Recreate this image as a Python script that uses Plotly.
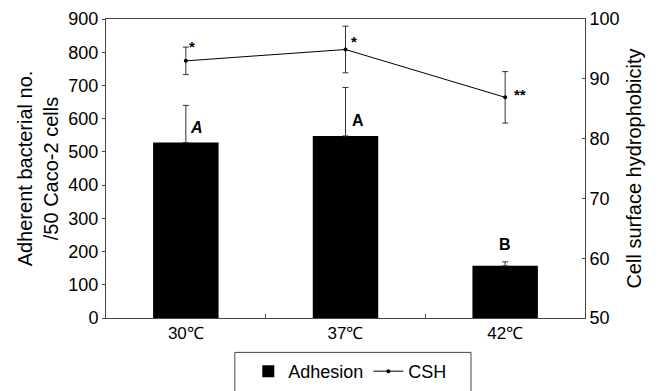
import plotly.graph_objects as go

categories = ["30℃", "37℃", "42℃"]
adhesion = [528, 548, 157]
adhesion_err = [112, 146, 12]
csh = [93.0, 94.9, 86.9]
csh_err = [2.3, 3.9, 4.3]
bar_labels = ["<i>A</i>", "A", "B"]
bar_label_y = [573, 595, 221]
csh_labels = ["*", "*", "**"]
csh_label_y = [95.4, 96.2, 87.4]

FONT = "Liberation Sans, Arial, sans-serif"

fig = go.Figure()
fig.add_trace(go.Bar(
    x=categories, y=adhesion, name="Adhesion",
    marker=dict(color="black", line=dict(width=0)),
    error_y=dict(type="data", array=adhesion_err, arrayminus=[0, 0, 0], symmetric=False,
                 color="#333333", thickness=1, width=3),
    yaxis="y",
))
fig.add_trace(go.Scatter(
    x=categories, y=csh, name="CSH", mode="lines+markers",
    line=dict(color="black", width=1),
    marker=dict(color="black", size=4),
    error_y=dict(type="data", array=csh_err, color="#333333", thickness=1, width=3),
    yaxis="y2",
))

bar_xshift = [11, 12, 0]
for c, t, yv, xs in zip(categories, bar_labels, bar_label_y, bar_xshift):
    fig.add_annotation(x=c, y=yv, xref="x", yref="y", text="<b>" + t + "</b>",
                       showarrow=False, xshift=xs, font=dict(family=FONT, size=16, color="black"))
csh_xshift = [6, 8, 15]
for c, t, yv, xs in zip(categories, csh_labels, csh_label_y, csh_xshift):
    fig.add_annotation(x=c, y=yv, xref="x", yref="y2", text="<b>" + t + "</b>",
                       showarrow=False, xshift=xs, font=dict(family=FONT, size=15, color="black"))

# legend frame
fig.add_shape(type="rect", xref="paper", yref="paper", x0=0.269, x1=0.762, y0=-0.115, y1=-0.26,
              line=dict(color="#444444", width=1), fillcolor="rgba(0,0,0,0)", layer="above")

fig.update_layout(
    width=662, height=391,
    margin=dict(l=98, r=85, t=11, b=81, autoexpand=False),
    paper_bgcolor="white", plot_bgcolor="white",
    font=dict(family=FONT, size=18, color="black"),
    bargap=0.59,
    showlegend=True,
    legend=dict(orientation="h", x=0.51, xanchor="center", y=-0.117, yanchor="top",
                borderwidth=0, bgcolor="rgba(0,0,0,0)", font=dict(size=18), itemwidth=30,
                tracegroupgap=0),
    xaxis=dict(showline=True, linecolor="#444444", linewidth=1, mirror=True, automargin=False,
               ticks="inside", tickson="boundaries", ticklen=4, tickcolor="#444444",
               showgrid=False, tickfont=dict(size=17)),
    yaxis=dict(range=[0, 900], dtick=100, showline=True, linecolor="#444444", linewidth=1,
               automargin=False,
               ticks="outside", ticklen=3, tickcolor="#444444", showgrid=False, zeroline=False,
               title=dict(text="Adherent bacterial no.<br>/50 Caco-2 cells", standoff=4,
                          font=dict(size=20)),
               tickfont=dict(size=18)),
    yaxis2=dict(range=[50, 100], dtick=10, overlaying="y", side="right", showline=True,
                automargin=False,
                linecolor="#444444", linewidth=1, ticks="inside", ticklen=3, tickcolor="#444444",
                showgrid=False, zeroline=False,
                title=dict(text="Cell surface hydrophobicity", standoff=8, font=dict(size=20)),
                tickfont=dict(size=18)),
)

fig.write_html("out.html")
